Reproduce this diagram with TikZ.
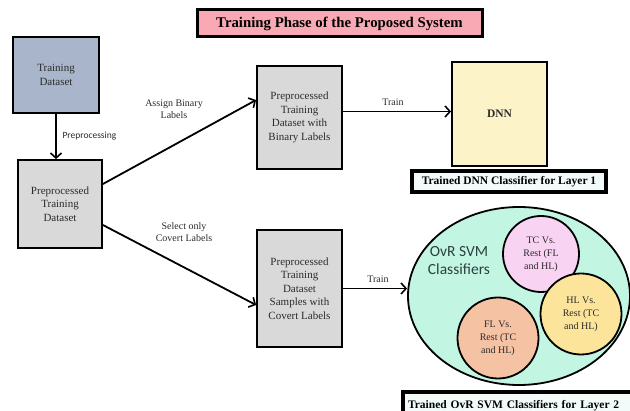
\documentclass[tikz,border=0pt]{standalone}
\usepackage{fontspec}
\setmainfont{Liberation Serif}
\newfontfamily\calfont{Carlito}
\usetikzlibrary{arrows.meta,shapes.geometric}

\definecolor{titlepink}{HTML}{F8A9B3}
\definecolor{dataset}{HTML}{A9B5CB}
\definecolor{boxgrey}{HTML}{D9D9D9}
\definecolor{dnnyellow}{HTML}{FDF3C8}
\definecolor{tagfill}{HTML}{F2FBFA}
\definecolor{mint}{HTML}{C3F6E2}
\definecolor{tcpink}{HTML}{F9D3F2}
\definecolor{hlyellow}{HTML}{FCE59A}
\definecolor{flpeach}{HTML}{F5C2A3}
\definecolor{inktext}{HTML}{2B2B2B}
\definecolor{svmtext}{HTML}{2A403F}

\tikzset{
  stagebox/.style={draw=black, line width=1.8pt, align=center, inner sep=2pt,
    text=inktext, font=\fontsize{11}{13.5}\selectfont},
  tagbox/.style={draw=black, line width=3.2pt, fill=tagfill, inner sep=0pt,
    font=\bfseries\fontsize{11.5}{13}\selectfont},
  flow/.style={line width=1.8pt, -{Straight Barb[length=5pt,width=11pt,line width=1.6pt]}},
  edgelabel/.style={align=center, text=inktext, font=\fontsize{10}{11.5}\selectfont},
  ovr/.style={circle, draw=black, line width=1.8pt, align=center, inner sep=0pt,
    minimum size=79pt, text=inktext, font=\fontsize{10}{13}\selectfont},
}

\begin{document}
\begin{tikzpicture}[x=1pt, y=-1pt]
  \useasboundingbox (0,0) rectangle (630,411);
  \clip (0,0) rectangle (630,411);

  % heading
  \node[draw=black, line width=3pt, fill=titlepink, minimum width=285pt, minimum height=27pt,
        inner sep=0pt, font=\bfseries\fontsize{14.8}{16}\selectfont] (title) at (339.5,23.5)
        {Training Phase of the Proposed System};

  % data preparation boxes
  \node[stagebox, fill=dataset, minimum width=86pt, minimum height=76pt] (train) at (56,75)
        {Training\\Dataset};
  \node[stagebox, fill=boxgrey, minimum width=84pt, minimum height=88pt] (pre) at (60,204)
        {Preprocessed\\Training\\Dataset};
  \node[stagebox, fill=boxgrey, minimum width=85pt, minimum height=103pt] (bin) at (299.5,117.5)
        {Preprocessed\\Training\\Dataset with\\Binary Labels};
  \node[stagebox, fill=boxgrey, minimum width=85pt, minimum height=117pt] (cov) at (299.5,288.5)
        {Preprocessed\\Training\\Dataset\\Samples with\\Covert Labels};

  % layer 1 classifier
  \node[stagebox, fill=dnnyellow, minimum width=95pt, minimum height=104pt,
        font=\bfseries\fontsize{11.5}{13}\selectfont] (dnn) at (499.5,114) {DNN};
  \node[tagbox, minimum width=194pt, minimum height=21pt] (dnntag) at (509,181.5)
        {Trained DNN Classifier for Layer 1};

  % layer 2 classifiers
  \node[ellipse, draw=black, line width=1.8pt, fill=mint, minimum width=222pt,
        minimum height=178pt, inner sep=0pt] (svm) at (519,296) {};
  \node[align=center, text=svmtext, font=\calfont\fontsize{15.5}{18}\selectfont] (svmname) at (459,261)
        {OvR SVM\\Classifiers};
  \node[ovr, fill=tcpink, minimum size=76pt] (tc) at (541,254) {TC Vs.\\Rest (FL\\and HL)};
  \node[ovr, fill=hlyellow, minimum size=81pt] (hl) at (581,314) {HL Vs.\\Rest (TC\\and HL)};
  \node[ovr, fill=flpeach, minimum size=81pt] (fl) at (498,338) {FL Vs.\\Rest (TC\\and HL)};
  \node[tagbox, minimum width=232pt, minimum height=28pt, text width=222pt, align=left] (svmtag)
        at (519,406) {Trained OvR SVM Classifiers for Layer 2};

  % connectors
  \draw[flow] (train.south) -- (train.south |- pre.north);
  \node[anchor=west, text=inktext, font=\calfont\fontsize{9.5}{11}\selectfont] (prelabel) at (59,136)
        {Preprocessing};

  \draw[flow] ([yshift=20pt]pre.east) -- ([yshift=17.5pt]bin.west);
  \node[edgelabel] (assign) at (174,109) {Assign Binary\\Labels};

  \draw[flow] ([yshift=-21pt]pre.east) -- ([yshift=-16.5pt]cov.west);
  \node[edgelabel] (select) at (184,232) {Select only\\Covert Labels};

  \draw[flow] ([yshift=6pt]bin.east) -- ([yshift=6pt]bin.east -| dnn.west);
  \node[edgelabel] (train1) at (393,102) {Train};

  \draw[flow] (cov.east) -- (cov.east -| svm.west);
  \node[edgelabel] (train2) at (378,279) {Train};
\end{tikzpicture}
\end{document}
